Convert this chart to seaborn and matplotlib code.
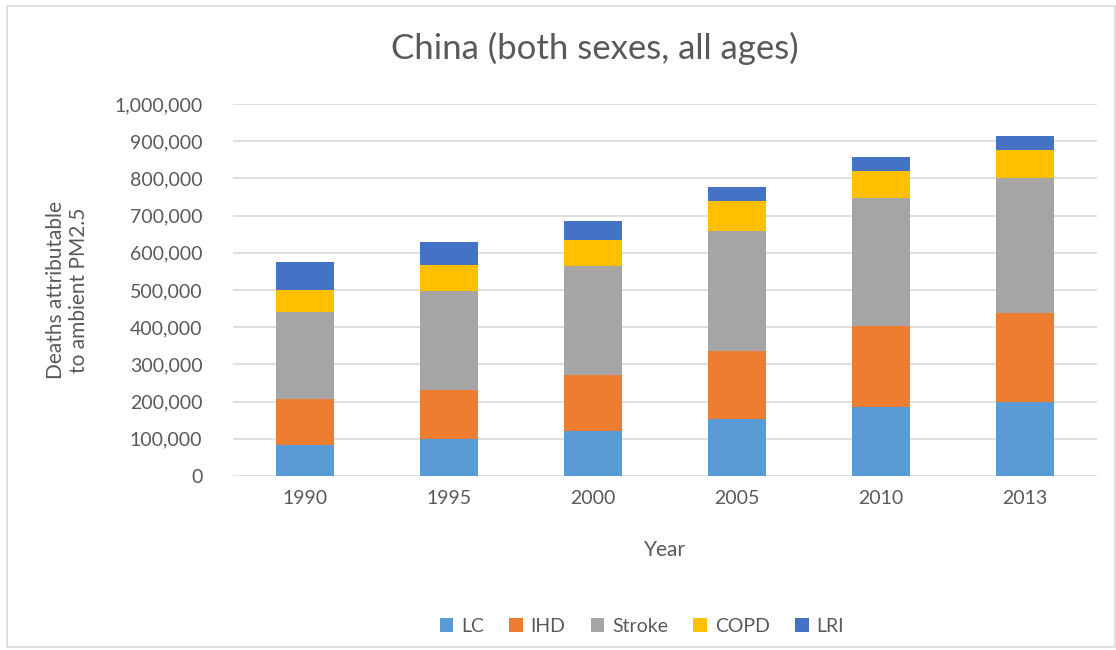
import numpy as np
import pandas as pd
import matplotlib
matplotlib.use("Agg")
import matplotlib.pyplot as plt
import seaborn as sns
from matplotlib.patches import Rectangle
from matplotlib.ticker import FuncFormatter

# ==================== data ====================
years = ["1990", "1995", "2000", "2005", "2010", "2013"]
causes = ["LC", "IHD", "Stroke", "COPD", "LRI"]
lc = [83000, 99000, 120000, 152000, 185000, 200000]
ihd = [124000, 132000, 151000, 183000, 219000, 237000]
stroke = [234000, 267000, 294000, 324000, 344000, 363000]
copd = [59000, 69000, 70000, 80000, 72000, 76000]
lri = [76000, 63000, 51000, 38000, 37000, 39000]

COLORS = ["#5B9BD5", "#ED7D31", "#A5A5A5", "#FFC000", "#4472C4"]
TEXT = "#595959"

sns.set_theme(style="white")
plt.rcParams['font.family'] = ['Lato', 'DejaVu Sans']

df = pd.DataFrame({"Year": years, "LC": lc, "IHD": ihd, "Stroke": stroke,
                   "COPD": copd, "LRI": lri})

fig = plt.figure(figsize=(11.16, 6.5), dpi=100)
ax = fig.add_axes([0.2088, 0.2677, 0.7742, 0.5723])

# stacked bars, one layer per cause
bottom = np.zeros(len(years))
for cause, color in zip(causes, COLORS):
    sns.barplot(data=df, x="Year", y=cause, order=years, color=color,
                saturation=1, width=0.4, bottom=bottom, label=cause, ax=ax,
                edgecolor="none", linewidth=0)
    bottom = bottom + df[cause].values

ax.set_ylim(0, 1000000)
ax.set_yticks(np.arange(0, 1000001, 100000))
ax.yaxis.set_major_formatter(FuncFormatter(lambda v, p: f"{int(v):,}"))
ax.set_xlim(-0.5, len(years) - 0.5)
ax.grid(axis="y", color="#D9D9D9", linewidth=1.2)
ax.set_axisbelow(True)
sns.despine(ax=ax, left=True, bottom=True, top=True, right=True)
ax.tick_params(axis="both", length=0, labelsize=14, labelcolor=TEXT)
ax.tick_params(axis="y", pad=22)
ax.tick_params(axis="x", pad=10)

ax.set_xlabel("Year", fontsize=15, color=TEXT, labelpad=24)
ax.set_ylabel("Deaths attributable\nto ambient PM2.5", fontsize=15,
              color=TEXT, labelpad=18)
fig.text(0.533, 0.926, "China (both sexes, all ages)", fontsize=25,
         color=TEXT, ha="center", va="center")

handles, labels = ax.get_legend_handles_labels()
if ax.get_legend() is not None:
    ax.get_legend().remove()
fig.legend(handles, labels, loc="center", bbox_to_anchor=(0.575, 0.036),
           ncol=5, frameon=False, fontsize=14, handlelength=0.7,
           handleheight=0.7, handletextpad=0.4, columnspacing=1.3,
           labelcolor=TEXT)

# chart border
fig.patches.append(Rectangle((0.006, 0.004), 0.993, 0.987,
                             transform=fig.transFigure, fill=False,
                             edgecolor="#D9D9D9", linewidth=1.2))

fig.savefig("out.png", dpi=100)
